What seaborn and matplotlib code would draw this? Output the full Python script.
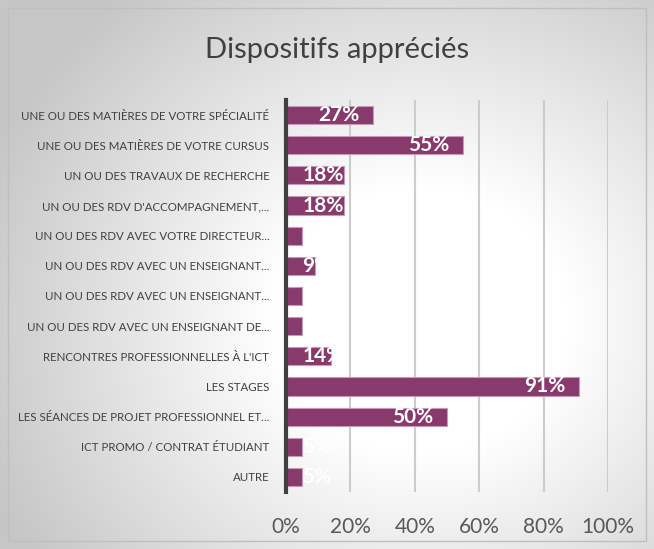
import seaborn as sns
import matplotlib.pyplot as plt
import matplotlib.patches as patches
import pandas as pd
import numpy as np

# Survey answers (share of respondents, %)
categories = [
    "UNE OU DES MATIÈRES DE VOTRE SPÉCIALITÉ",
    "UNE OU DES MATIÈRES DE VOTRE CURSUS",
    "UN OU DES TRAVAUX DE RECHERCHE",
    "UN OU DES RDV D'ACCOMPAGNEMENT,...",
    "UN OU DES RDV AVEC VOTRE DIRECTEUR...",
    "UN OU DES RDV AVEC UN ENSEIGNANT...",
    "UN OU DES RDV AVEC UN ENSEIGNANT...",
    "UN OU DES RDV AVEC UN ENSEIGNANT DE...",
    "RENCONTRES PROFESSIONNELLES À L'ICT",
    "LES STAGES",
    "LES SÉANCES DE PROJET PROFESSIONNEL ET...",
    "ICT PROMO / CONTRAT ÉTUDIANT",
    "AUTRE",
]
values = [27, 55, 18, 18, 5, 9, 5, 5, 14, 91, 50, 5, 5]
x_ticks = [0, 20, 40, 60, 80, 100]

df = pd.DataFrame({"pos": range(len(values)), "label": categories, "value": values})

sns.set_theme(style="white")
plt.rcParams['font.family'] = ['Lato', 'DejaVu Sans']

fig = plt.figure(figsize=(6.54, 5.49), dpi=100)

# radial grey-to-white background
bg = fig.add_axes([0, 0, 1, 1], zorder=-10)
yy, xx = np.mgrid[0:549, 0:654]
r = np.sqrt(((xx - 420) / 420.0) ** 2 + ((yy - 320) / 380.0) ** 2)
shade = 1.0 - 0.22 * np.clip((r - 0.35) / 0.75, 0, 1)
bg.imshow(np.dstack([shade] * 3), extent=[0, 1, 0, 1], aspect='auto', vmin=0, vmax=1)
bg.axis('off')
fig.patches.append(patches.Rectangle((8 / 654, 8 / 549), 638 / 654, 533 / 549,
                                     transform=fig.transFigure, fill=False,
                                     edgecolor='#bfbfbf', linewidth=1))

ax = fig.add_axes([286 / 654, 1 - 492 / 549, 322 / 654, 392 / 549])
ax.set_facecolor('none')

sns.barplot(data=df, y="pos", x="value", orient="h", color='#883a6c',
            saturation=1, width=0.6, edgecolor='#c89ab8', linewidth=0.8,
            ax=ax, zorder=3)

for i, v in enumerate(values):
    ax.text(max(5, v - 17), i, f"{v}%", color='white', fontsize=15,
            fontweight='bold', va='center', ha='left', zorder=4)

ax.set_xlim(0, 100)
ax.set_ylim(len(values) - 0.5, -0.5)
ax.set_xticks(x_ticks)
ax.set_xticklabels([f"{t}%" for t in x_ticks], fontsize=15, color='#595959')
ax.set_yticks(range(len(values)))
ax.set_yticklabels(categories, fontsize=8.3, color='#404040')
ax.tick_params(axis='y', length=0, pad=12)
ax.tick_params(axis='x', length=0, pad=18)
ax.set_xlabel("")
ax.set_ylabel("")

ax.grid(axis='x', color='#cccccc', linewidth=1.5, zorder=0)
ax.set_axisbelow(True)
for s in ['top', 'right', 'bottom']:
    ax.spines[s].set_visible(False)
ax.spines['left'].set_color('#404040')
ax.spines['left'].set_linewidth(3)
ax.spines['left'].set_zorder(5)

fig.text(337 / 654, 1 - 50 / 549, "Dispositifs appréciés", ha='center', va='center',
         fontsize=21, color='#404040')

fig.savefig("out.png", dpi=100)
